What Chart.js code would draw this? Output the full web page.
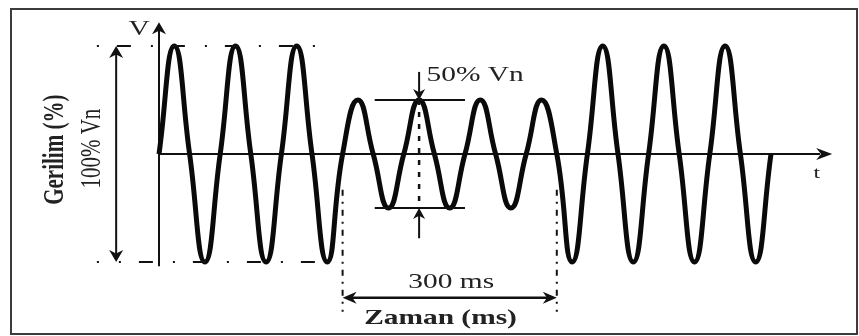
<!DOCTYPE html>
<html>
<head>
<meta charset="utf-8">
<script src="https://cdn.jsdelivr.net/npm/chart.js@4"></script>
<style>
  html, body { margin: 0; padding: 0; background: #fff; }
  #wrap { position: relative; width: 859px; height: 336px; overflow: hidden; }
  #frame { position: absolute; left: 10px; top: 8px; width: 848px; height: 327px; box-sizing: border-box; border: 2px solid #3c3c3c; pointer-events: none; }
  canvas { position: absolute; left: 0; top: 0; }
</style>
</head>
<body>
<div id="wrap">
  <canvas id="sagChart" width="859" height="336"></canvas>
  <div id="frame"></div>
</div>
<script>
// peak value (% of Vn) of every half cycle, left to right
const halfCyclePeaks = [100, -100, 100, -100, 100, -100,
                        50, -50, 50, -50, 50, -50, 50,
                        -100, 100, -100, 100, -100, 100, -100];
// sag window, in half-cycle units
const sagStart = 6;
const sagEnd = 13;
const nominalPct = 100;
const sagPct = 50;

// texts
const yTitle = 'Gerilim (%)';
const nominalLabel = '100% Vn';
const sagLabel = '50% Vn';
const sagDurationLabel = '300 ms';
const xTitle = 'Zaman (ms)';
const vLabel = 'V';
const tLabel = 't';

// zero crossing + peak for each half cycle
const wavePoints = [];
halfCyclePeaks.forEach((peak, i) => {
    wavePoints.push({ x: i, y: 0 });
    wavePoints.push({ x: i + 0.5, y: peak });
});
wavePoints.push({ x: halfCyclePeaks.length, y: 0 });

const SERIF = '"Liberation Serif", "Times New Roman", serif';
const STRETCH = 1.4;
const DASH_DOT = [2, 18, 14, 20];

function arrowHead(ctx, x, y, angle, len, half) {
    ctx.save();
    ctx.translate(x, y);
    ctx.rotate(angle);
    ctx.beginPath();
    ctx.moveTo(0, 0);
    ctx.lineTo(-len, -half);
    ctx.lineTo(-len * 0.7, 0);
    ctx.lineTo(-len, half);
    ctx.closePath();
    ctx.fill();
    ctx.restore();
}

function line(ctx, x1, y1, x2, y2, width, dash, offset) {
    ctx.save();
    ctx.lineWidth = width;
    ctx.setLineDash(dash || []);
    ctx.lineDashOffset = offset || 0;
    ctx.beginPath();
    ctx.moveTo(x1, y1);
    ctx.lineTo(x2, y2);
    ctx.stroke();
    ctx.restore();
}

function label(ctx, text, x, y, font, vertical) {
    ctx.save();
    ctx.font = font;
    ctx.textAlign = 'center';
    ctx.textBaseline = 'middle';
    ctx.translate(x, y);
    if (vertical) {
        ctx.rotate(-Math.PI / 2);
        ctx.scale(1, STRETCH);
    } else {
        ctx.scale(STRETCH, 1);
    }
    ctx.fillText(text, 0, 0);
    ctx.restore();
}

const axesPlugin = {
    id: 'axesPlugin',
    beforeDatasetsDraw(chart) {
        const ctx = chart.ctx;
        const X = v => chart.scales.x.getPixelForValue(v);
        const Y = v => chart.scales.y.getPixelForValue(v);
        ctx.save();
        ctx.strokeStyle = '#111';
        ctx.fillStyle = '#111';
        // vertical axis
        line(ctx, X(0), Y(-104), X(0), Y(120), 2);
        arrowHead(ctx, X(0), Y(122), -Math.PI / 2, 12, 7);
        // time axis
        line(ctx, X(0), Y(0), X(21.6), Y(0), 2);
        arrowHead(ctx, X(22), Y(0), 0, 16, 6);
        ctx.restore();
    },
    afterDatasetsDraw(chart) {
        const ctx = chart.ctx;
        const X = v => chart.scales.x.getPixelForValue(v);
        const Y = v => chart.scales.y.getPixelForValue(v);
        ctx.save();
        ctx.strokeStyle = '#111';
        ctx.fillStyle = '#111';

        // nominal level guides
        line(ctx, X(-2.03), Y(nominalPct), X(5.6), Y(nominalPct), 2, DASH_DOT);
        line(ctx, X(-2.03), Y(-nominalPct), X(5.75), Y(-nominalPct), 2, DASH_DOT, 32);
        // 100% span arrow
        line(ctx, X(-1.4), Y(nominalPct - 6), X(-1.4), Y(-nominalPct + 6), 2);
        arrowHead(ctx, X(-1.4), Y(nominalPct), -Math.PI / 2, 12, 7);
        arrowHead(ctx, X(-1.4), Y(-nominalPct), Math.PI / 2, 12, 7);

        // 50% level guides
        line(ctx, X(7.05), Y(sagPct), X(10), Y(sagPct), 2);
        line(ctx, X(7.05), Y(-sagPct), X(10), Y(-sagPct), 2);
        line(ctx, X(8.5), Y(sagPct), X(8.5), Y(-sagPct), 2.5, [5, 7]);
        line(ctx, X(8.5), Y(76), X(8.5), Y(sagPct + 6), 2);
        arrowHead(ctx, X(8.5), Y(sagPct), Math.PI / 2, 11, 6);
        line(ctx, X(8.5), Y(-78), X(8.5), Y(-sagPct - 6), 2);
        arrowHead(ctx, X(8.5), Y(-sagPct), -Math.PI / 2, 11, 6);

        // sag window
        line(ctx, X(sagStart), Y(-33), X(sagStart), Y(-146), 2, [6, 6, 2, 6]);
        line(ctx, X(sagEnd), Y(-33), X(sagEnd), Y(-146), 2, [6, 6, 2, 6]);
        line(ctx, X(sagStart) + 6, Y(-133), X(sagEnd) - 6, Y(-133), 2.5);
        arrowHead(ctx, X(sagStart), Y(-133), Math.PI, 14, 6);
        arrowHead(ctx, X(sagEnd), Y(-133), 0, 14, 6);

        // texts
        ctx.fillStyle = '#222';
        label(ctx, vLabel, X(-0.65), Y(115), '21px ' + SERIF);
        label(ctx, tLabel, X(21.5), Y(-18), '17px ' + SERIF);
        label(ctx, sagLabel, X(10.33), Y(73), '21px ' + SERIF);
        label(ctx, sagDurationLabel, X(9.55), Y(-119), '21px ' + SERIF);
        label(ctx, xTitle, X(9.2), Y(-152), 'bold 21px ' + SERIF);
        label(ctx, yTitle, 55, Y(4), 'bold 21px ' + SERIF, true);
        label(ctx, nominalLabel, 92, Y(5), '21px ' + SERIF, true);
        ctx.restore();
    }
};

const ctx = document.getElementById('sagChart').getContext('2d');
new Chart(ctx, {
    type: 'line',
    data: {
        datasets: [{
            label: 'V',
            data: wavePoints,
            borderColor: '#0a0a0a',
            borderWidth: 5,
            pointRadius: 0,
            tension: 0.5,
            fill: false
        }]
    },
    options: {
        responsive: false,
        animation: false,
        devicePixelRatio: 1,
        layout: { padding: 0 },
        plugins: { legend: { display: false }, tooltip: { enabled: false } },
        scales: {
            x: { type: 'linear', min: -159 / 30.6, max: 700 / 30.6, display: false },
            y: { type: 'linear', min: -182 / 1.08, max: 154 / 1.08, display: false }
        }
    },
    plugins: [axesPlugin]
});
</script>
</body>
</html>
